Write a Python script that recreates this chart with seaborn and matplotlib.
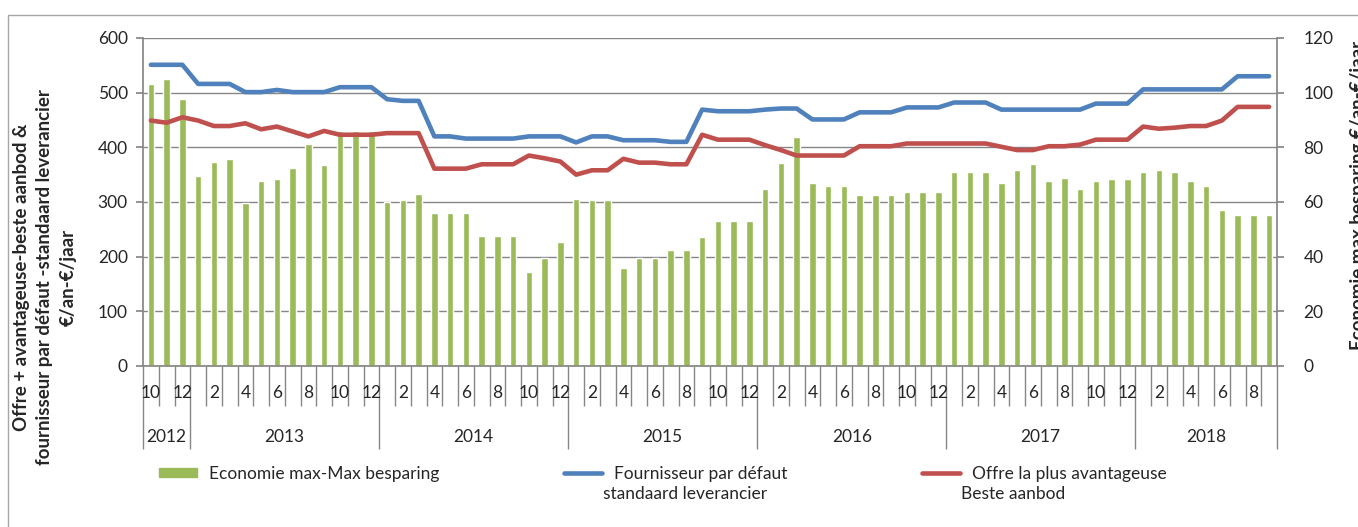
#~~~~~~~~~~~~~~~~~~~~~~~~~~~~~~~~~~~~~~~~~~~~~~~~~~~~~~~~~~~~~~~~~~~~~~~~~~~~~~
# plot.py ----
# Purpose of Script: default supplier vs best offer, with max saving bars
#~~~~~~~~~~~~~~~~~~~~~~~~~~~~~~~~~~~~~~~~~~~~~~~~~~~~~~~~~~~~~~~~~~~~~~~~~~~~~~
import numpy as np
import pandas as pd
import seaborn as sns
import matplotlib.pyplot as plt
from matplotlib.patches import Patch, Rectangle
from matplotlib.lines import Line2D

#~~~~~~~~~~~~~~~~~~~~~~~~~~
# Data (Oct 2012 - Sep 2018, monthly)
#~~~~~~~~~~~~~~~~~~~~~~~~~~
periods = pd.period_range("2012-10", "2018-09", freq="M")
months = list(periods.month)
years = list(periods.year)

# Fournisseur par défaut - standaard leverancier (€/an)
default_supplier = [
    551, 551, 551, 516, 516, 516, 501, 501, 505, 501, 501, 501,
    510, 510, 510, 488, 485, 485, 420, 420, 416, 416, 416, 416,
    420, 420, 420, 409, 420, 420, 413, 413, 413, 410, 410, 469,
    466, 466, 466, 469, 471, 471, 451, 451, 451, 464, 464, 464,
    473, 473, 473, 482, 482, 482, 469, 469, 469, 469, 469, 469,
    480, 480, 480, 506, 506, 506, 506, 506, 506, 530, 530, 530,
]

# Offre la plus avantageuse - beste aanbod (€/an)
best_offer = [
    449, 445, 455, 449, 439, 439, 444, 433, 438, 429, 420, 430,
    423, 423, 423, 426, 426, 426, 361, 361, 361, 369, 369, 369,
    385, 380, 374, 350, 358, 358, 379, 372, 372, 369, 369, 423,
    414, 414, 414, 404, 395, 385, 385, 385, 385, 402, 402, 402,
    407, 407, 407, 407, 407, 407, 401, 395, 395, 402, 402, 405,
    414, 414, 414, 438, 434, 436, 439, 439, 449, 474, 474, 474,
]

# Economie max - max besparing (€/an)
max_saving = [
    103, 105, 97.5, 69.5, 74.6, 75.9, 59.5, 67.7, 68.3, 72.4, 81.2, 73.5,
    85.9, 85.9, 85.9, 60, 60.6, 63, 56, 56, 56, 47.7, 47.7, 47.7,
    34.3, 39.6, 45.4, 61.1, 60.6, 60.6, 36, 39.6, 39.6, 42.4, 42.4, 47.2,
    52.9, 52.9, 52.9, 64.6, 74.2, 83.9, 67.1, 65.9, 65.9, 62.4, 62.4, 62.4,
    63.5, 63.5, 63.5, 71.1, 71.1, 71.1, 67.1, 71.7, 74, 67.7, 68.8, 64.8,
    67.7, 68.3, 68.3, 71.1, 71.7, 71.1, 67.7, 65.9, 57.1, 55.4, 55.4, 55.4,
]

idx = np.arange(len(periods))

c_green = "#9BBB59"
c_blue = "#4F81BD"
c_red = "#C0504D"
c_grid = "#868686"

#~~~~~~~~~~~~~~~~~~~~~~~~~~
# Style
#~~~~~~~~~~~~~~~~~~~~~~~~~~
sns.set_theme(style="white")
plt.rcParams["font.family"] = ["Lato", "DejaVu Sans"]
plt.rcParams["font.size"] = 12

fig = plt.figure(figsize=(13.58, 5.27), dpi=100)
ax = fig.add_axes([143 / 1358, 161 / 527, 1134 / 1358, 328 / 527])
ax2 = ax.twinx()

# Bars (right axis scale) on the base axes so the lines sit on top
sns.barplot(x=idx, y=max_saving, ax=ax, color=c_green, width=0.42,
            saturation=1, native_scale=True)

sns.lineplot(x=idx, y=default_supplier, ax=ax2, color=c_blue, lw=3.3)
sns.lineplot(x=idx, y=best_offer, ax=ax2, color=c_red, lw=3.3)

ax.set_xlim(-0.5, len(idx) - 0.5)
ax.set_ylim(0, 120)
ax2.set_ylim(0, 600)

# swap sides: savings on the right, prices on the left
ax.yaxis.tick_right()
ax2.yaxis.tick_left()
ax.set_yticks(range(0, 121, 20))
ax2.set_yticks(range(0, 601, 100))
ax.tick_params(axis="y", direction="out", length=5, color=c_grid, pad=14,
               labelsize=12.5, right=True, left=False)
ax2.tick_params(axis="y", direction="out", length=5, color=c_grid, pad=6,
                labelsize=12.5, left=True, right=False)
ax.set_ylabel("")
ax2.set_ylabel("")

ax.grid(axis="y", color=c_grid, lw=1)
ax.set_axisbelow(True)

for s in ["left", "right", "bottom"]:
    ax.spines[s].set_visible(True)
    ax.spines[s].set_color(c_grid)
ax.spines["top"].set_visible(False)
for s in ax2.spines.values():
    s.set_visible(False)

# x axis: month boundaries (minor) and year boundaries (major)
year_list = sorted(set(years))
year_edges = [-0.5] + [i - 0.5 for i in idx if months[i] == 1] + [len(idx) - 0.5]
ax.set_xticks(year_edges)
ax.set_xticks([i - 0.5 for i in idx[1:] if months[i] != 1], minor=True)
ax.tick_params(axis="x", which="major", direction="out", length=60,
               color=c_grid, width=1, labelbottom=False, bottom=True)
ax.tick_params(axis="x", which="minor", direction="out", length=29,
               color=c_grid, width=1, bottom=True)
ax.set_xlabel("")

trans = ax.get_xaxis_transform()
for i in idx:
    if i % 2 == 0:
        ax.text(i, -0.082, str(months[i]), transform=trans, ha="center",
                va="center", fontsize=12.5)
for y in year_list:
    pos = [i for i in idx if years[i] == y]
    ax.text(np.mean(pos), -0.216, str(y), transform=trans, ha="center",
            va="center", fontsize=12.5)

# axis titles
fig.text(45 / 1358, 0.474,
         "Offre + avantageuse-beste aanbod &\nfournisseur par défaut -standaard leverancier\n€/an-€/jaar",
         rotation=90, ha="center", va="center", fontsize=13.5,
         fontweight="bold", multialignment="center", linespacing=1.45)
fig.text(1350 / 1358, 0.63, "Economie max besparing €/an-€/jaar",
         rotation=90, ha="left", va="center", fontsize=13.5, fontweight="bold")

# legends: handle next to first line, second line written underneath
legend_items = [
    (Patch(color=c_green), "Economie max-Max besparing", "", 150 / 1358, 0.5),
    (Line2D([], [], color=c_blue, lw=3.3), "Fournisseur par défaut",
     "standaard leverancier", 555 / 1358, 0.7),
    (Line2D([], [], color=c_red, lw=3.3), "Offre la plus avantageuse",
     "Beste aanbod", 913 / 1358, 0.7),
]
for handle, label, line2, xpos, hh in legend_items:
    fig.legend([handle], [label], loc="upper left",
               bbox_to_anchor=(xpos, 1 - 457 / 527), frameon=False,
               borderpad=0, handlelength=2.2, handletextpad=0.7,
               handleheight=hh, fontsize=12.5)
    if line2:
        fig.text(xpos + 48 / 1358, 1 - 494 / 527, line2, ha="left",
                 va="center", fontsize=12.5)

# outer chart border
fig.patches.append(Rectangle((8 / 1358, -0.1), 1.2, 1.1 - 15 / 527,
                             transform=fig.transFigure, fill=False,
                             edgecolor="#A6A6A6", lw=1))

fig.savefig("out.png", dpi=100)
